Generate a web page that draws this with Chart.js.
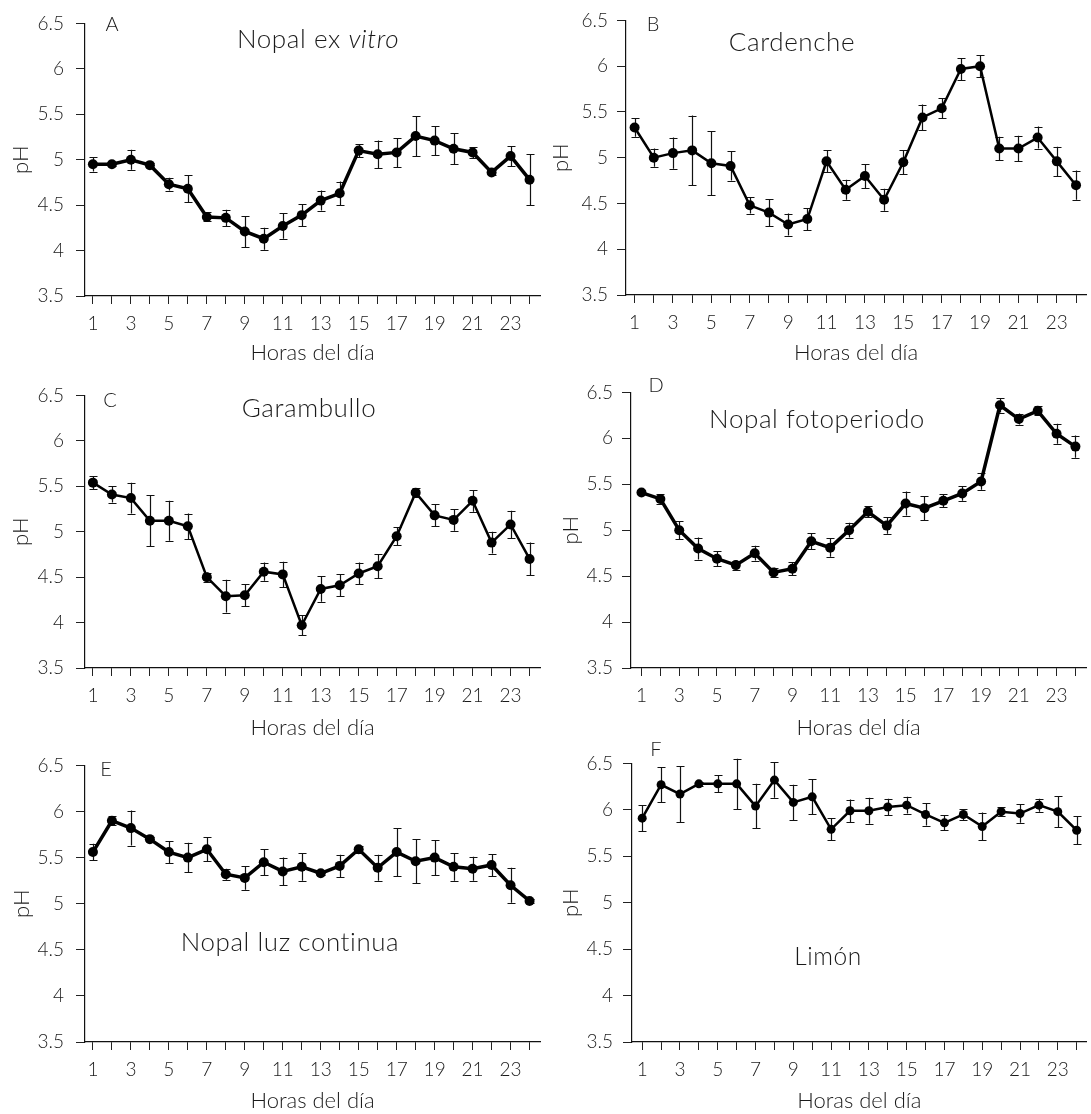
<!DOCTYPE html>
<html>
<head>
<meta charset="utf-8">
<script src="https://cdn.jsdelivr.net/npm/chart.js@4.4.0/dist/chart.umd.min.js"></script>
<style>
  html, body { margin: 0; padding: 0; background: #fff; }
  #wrap { position: relative; width: 1091px; height: 1114px; background: #fff; overflow: hidden; }
  .box { position: absolute; }
  .txt { position: absolute; transform: translate(-50%, -50%); white-space: nowrap; font-family: Lato, "Open Sans", sans-serif; font-weight: 300; color: #1a1a1a; line-height: 1; }
  .ttl { font-size: 23px; letter-spacing: 0.6px; }
  .let { font-size: 20px; }
</style>
</head>
<body>
<div id="wrap">
  <div class="box" style="left:0;top:0;width:545px;height:372px"><canvas id="cA" width="545" height="372"></canvas></div>
  <div class="box" style="left:545px;top:0;width:546px;height:372px"><canvas id="cB" width="546" height="372"></canvas></div>
  <div class="box" style="left:0;top:372px;width:545px;height:370px"><canvas id="cC" width="545" height="370"></canvas></div>
  <div class="box" style="left:545px;top:372px;width:546px;height:370px"><canvas id="cD" width="546" height="370"></canvas></div>
  <div class="box" style="left:0;top:742px;width:545px;height:372px"><canvas id="cE" width="545" height="372"></canvas></div>
  <div class="box" style="left:545px;top:742px;width:546px;height:372px"><canvas id="cF" width="546" height="372"></canvas></div>

  <div class="txt let" style="left:112px;top:23px">A</div>
  <div class="txt ttl" data-w="163" style="left:318px;top:38px">Nopal ex <i>vitro</i></div>
  <div class="txt let" style="left:653px;top:23px">B</div>
  <div class="txt ttl" data-w="139" style="left:792px;top:41px">Cardenche</div>
  <div class="txt let" style="left:110px;top:399px">C</div>
  <div class="txt ttl" data-w="148" style="left:309px;top:407px">Garambullo</div>
  <div class="txt let" style="left:656px;top:384px">D</div>
  <div class="txt ttl" data-w="219" style="left:817px;top:418px">Nopal fotoperiodo</div>
  <div class="txt let" style="left:106px;top:768px">E</div>
  <div class="txt ttl" data-w="220" style="left:290px;top:942px">Nopal luz continua</div>
  <div class="txt let" style="left:656px;top:748px">F</div>
  <div class="txt ttl" data-w="68" style="left:828px;top:956px">Limón</div>
</div>
<script>
// ---- data ----
const hours = [1,2,3,4,5,6,7,8,9,10,11,12,13,14,15,16,17,18,19,20,21,22,23,24];
const yTicks = [3.5,4,4.5,5,5.5,6,6.5];
const xTitle = 'Horas del día';
const yTitle = 'pH';

const phA  = [4.95,4.95,5.00,4.94,4.73,4.68,4.37,4.36,4.21,4.13,4.27,4.39,4.55,4.63,5.10,5.06,5.08,5.26,5.21,5.12,5.08,4.86,5.04,4.78];
const errA = [0.08,0.02,0.11,0.02,0.07,0.15,0.05,0.09,0.17,0.12,0.14,0.12,0.11,0.13,0.07,0.15,0.16,0.22,0.16,0.17,0.06,0.03,0.11,0.28];

const phB  = [5.33,5.00,5.05,5.08,4.94,4.91,4.48,4.40,4.27,4.33,4.96,4.65,4.80,4.54,4.95,5.44,5.54,5.97,6.00,5.10,5.10,5.22,4.96,4.70];
const errB = [0.10,0.10,0.17,0.38,0.35,0.16,0.09,0.15,0.12,0.12,0.12,0.11,0.13,0.12,0.13,0.14,0.11,0.12,0.12,0.13,0.14,0.12,0.16,0.16];

const phC  = [5.54,5.41,5.37,5.12,5.12,5.06,4.50,4.29,4.30,4.56,4.53,3.97,4.37,4.41,4.54,4.62,4.95,5.43,5.18,5.13,5.34,4.88,5.08,4.70];
const errC = [0.07,0.09,0.17,0.28,0.22,0.14,0.05,0.18,0.12,0.10,0.14,0.11,0.14,0.12,0.12,0.13,0.10,0.05,0.12,0.12,0.12,0.12,0.15,0.18];

const phD  = [5.41,5.34,5.00,4.80,4.69,4.62,4.75,4.54,4.58,4.88,4.81,5.00,5.20,5.05,5.29,5.24,5.32,5.40,5.53,6.36,6.21,6.30,6.05,5.91];
const errD = [0.02,0.05,0.10,0.12,0.08,0.05,0.08,0.05,0.07,0.09,0.10,0.08,0.06,0.09,0.13,0.13,0.07,0.08,0.09,0.08,0.06,0.05,0.11,0.12];

const phE  = [5.56,5.90,5.82,5.70,5.56,5.50,5.59,5.32,5.28,5.45,5.35,5.40,5.33,5.41,5.59,5.39,5.56,5.46,5.50,5.40,5.38,5.42,5.20,5.03];
const errE = [0.09,0.05,0.19,0.02,0.12,0.16,0.13,0.06,0.13,0.14,0.15,0.15,0.02,0.12,0.04,0.14,0.26,0.24,0.19,0.15,0.13,0.12,0.19,0.02];

const phF  = [5.91,6.27,6.17,6.28,6.28,6.28,6.04,6.32,6.08,6.14,5.79,5.99,5.99,6.03,6.05,5.95,5.86,5.95,5.82,5.98,5.96,6.05,5.98,5.78];
const errF = [0.14,0.19,0.30,0.02,0.09,0.27,0.24,0.19,0.19,0.19,0.12,0.12,0.14,0.09,0.09,0.12,0.08,0.06,0.15,0.05,0.10,0.07,0.17,0.15];

const FONT = 'Lato, "Open Sans", sans-serif';
const W8 = '300';

// fit HTML titles to the reference text widths by scaling the font size
document.querySelectorAll('.ttl').forEach(el => {
  const target = +el.dataset.w;
  const w = el.getBoundingClientRect().width;
  const size = Math.max(21, Math.min(26, 23 * target / w));
  el.style.fontSize = size.toFixed(1) + 'px';
});

// font sizes chosen so text widths match the reference
const mctx = document.createElement('canvas').getContext('2d');
function fitSize(text, target, base) {
  mctx.font = `${W8} ${base}px ${FONT}`;
  return Math.round(base * target / mctx.measureText(text).width * 10) / 10;
}
const fTitle = Math.min(22, fitSize(xTitle, 130, 18));
const fTick = Math.min(19, fitSize('6.5', 27, 16));

// ---- error bar plugin (uses chart scales) ----
const errorBars = {
  id: 'errorBars',
  beforeDatasetsDraw(chart) {
    const ctx = chart.ctx;
    const xs = chart.scales.x, ys = chart.scales.y;
    const ds = chart.data.datasets[0];
    const errs = ds.errors;
    ctx.save();
    ctx.strokeStyle = '#111';
    ctx.lineWidth = 1.2;
    ds.data.forEach((p, i) => {
      const e = errs[i];
      const px = Math.round(xs.getPixelForValue(p.x)) + 0.5;
      const y1 = ys.getPixelForValue(p.y - e);
      const y2 = ys.getPixelForValue(p.y + e);
      const cap = 4;
      ctx.beginPath();
      ctx.moveTo(px, y1); ctx.lineTo(px, y2);
      ctx.moveTo(px - cap, Math.round(y1) + 0.5); ctx.lineTo(px + cap, Math.round(y1) + 0.5);
      ctx.moveTo(px - cap, Math.round(y2) + 0.5); ctx.lineTo(px + cap, Math.round(y2) + 0.5);
      ctx.stroke();
    });
    ctx.restore();
  }
};

function makeChart(id, vals, errs, g) {
  const ctx = document.getElementById(id);
  const H = ctx.height;
  const xh = H - g.bottom;                        // space below the 3.5 line
  const xtp = Math.max(0, (H - g.xTitleY) - 0.6 * fTitle);
  const yttp = Math.max(0, g.yTitleX - 0.6 * fTitle);
  const xtkp = Math.max(0, 20 - 0.6 * fTick);
  return new Chart(ctx, {
    type: 'line',
    data: {
      datasets: [{
        data: hours.map((h, i) => ({ x: h, y: vals[i] })),
        errors: errs,
        borderColor: '#000',
        backgroundColor: '#000',
        borderWidth: g.lw,
        pointRadius: g.pr,
        pointHoverRadius: g.pr,
        pointBackgroundColor: '#000',
        pointBorderColor: '#000',
        pointBorderWidth: 0,
        tension: 0,
        clip: false
      }]
    },
    options: {
      responsive: false,
      animation: false,
      devicePixelRatio: 1,
      layout: { padding: { left: 0, right: 0, top: g.top, bottom: 0 } },
      plugins: { legend: { display: false }, tooltip: { enabled: false } },
      scales: {
        x: {
          type: 'linear',
          min: g.xmin, max: g.xmax,
          afterBuildTicks: s => { s.ticks = hours.map(v => ({ value: v })); },
          afterFit: s => { s.height = xh; },
          grid: { drawOnChartArea: false, drawTicks: true, tickLength: 8, color: '#222', lineWidth: 1 },
          border: { display: true, color: '#111', width: 1.2 },
          ticks: {
            autoSkip: false, maxRotation: 0, padding: xtkp,
            color: '#1a1a1a', font: { family: FONT, size: fTick, weight: W8 },
            callback: v => (v % 2 === 1 ? String(v) : '')
          },
          title: { display: true, text: xTitle, color: '#1a1a1a', font: { family: FONT, size: fTitle, weight: W8 }, padding: { top: 0, bottom: xtp } }
        },
        y: {
          type: 'linear',
          min: 3.5, max: 6.5,
          afterBuildTicks: s => { s.ticks = yTicks.map(v => ({ value: v })); },
          afterFit: s => { s.width = g.yw; },
          grid: { drawOnChartArea: false, drawTicks: true, tickLength: 9, color: '#222', lineWidth: 1 },
          border: { display: true, color: '#111', width: 1.2 },
          ticks: {
            padding: g.ytp,
            color: '#1a1a1a', font: { family: FONT, size: fTick, weight: W8 },
            callback: v => String(v)
          },
          title: { display: true, text: yTitle, color: '#1a1a1a', font: { family: FONT, size: fTitle, weight: W8 }, padding: { top: yttp, bottom: 0 } }
        }
      }
    },
    plugins: [errorBars]
  });
}

// geometry (canvas-local px): top = 6.5 line, bottom = 3.5 line, yw = y-axis x position
makeChart('cA', phA, errA, { top: 17, bottom: 296, yw: 85, xmin: 0.583, xmax: 24.55, xTitleY: 353, yTitleX: 21, ytp: 12, lw: 3.5, pr: 5 });
makeChart('cB', phB, errB, { top: 17, bottom: 295, yw: 81, xmin: 0.552, xmax: 24.52, xTitleY: 353, yTitleX: 16, ytp: 9, lw: 2.5, pr: 5 });
makeChart('cC', phC, errC, { top: 16, bottom: 296, yw: 85, xmin: 0.583, xmax: 24.55, xTitleY: 356, yTitleX: 21, ytp: 12, lw: 2.5, pr: 5 });
makeChart('cD', phD, errD, { top: 16, bottom: 296, yw: 86, xmin: 0.444, xmax: 24.56, xTitleY: 356, yTitleX: 26, ytp: 9, lw: 3.5, pr: 5 });
makeChart('cE', phE, errE, { top: 20, bottom: 300, yw: 85, xmin: 0.583, xmax: 24.55, xTitleY: 360, yTitleX: 22, ytp: 12, lw: 3.5, pr: 5 });
makeChart('cF', phF, errF, { top: 20, bottom: 300, yw: 87, xmin: 0.46, xmax: 24.52, xTitleY: 360, yTitleX: 26, ytp: 10, lw: 2.5, pr: 4.5 });
</script>
</body>
</html>
